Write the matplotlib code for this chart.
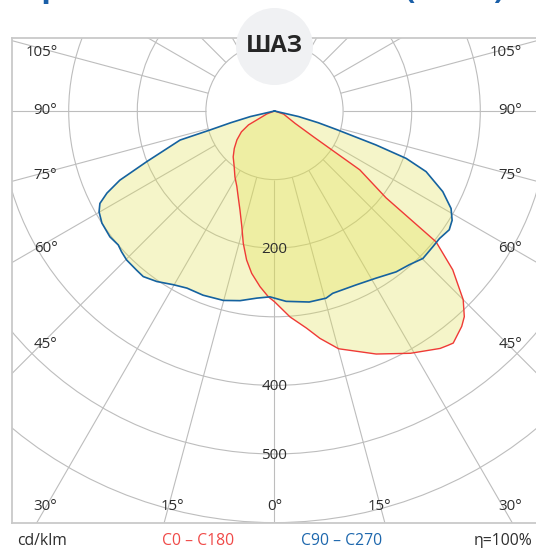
import numpy as np
import matplotlib
matplotlib.use("Agg")
import matplotlib.pyplot as plt
from matplotlib.patches import Circle

plt.rcParams['font.family'] = ['Open Sans', 'DejaVu Sans']

# ---------------- data (cd/klm) ----------------
# C90 - C270 plane (blue): gamma angle from nadir (negative = left side)
blue_gamma = [-90, -77, -75, -73.6, -72.9, -68.4, -65.9, -63.9, -62.1, -60.1, -57.0, -52.6, -49.4,
              -47.4, -44.8, -40.9, -38.4, -34.6, -30.2, -26.3, -21.2, -15.1, -10.3, -5.4, -1.4,
              3.5, 10.3, 15.4, 17.7, 25.1, 31.2, 37.1, 41.2, 45.2, 49.4, 52.3, 55.8, 58.4,
              61.1, 64.4, 68.2, 70.2, 71.5, 73.3, 75, 77, 90]
blue_cd = [0, 36, 66, 98, 144, 200, 247, 272, 288, 295, 300, 302, 300,
           303, 306, 307, 308, 302, 293, 288, 288, 286, 281, 274, 271,
           278, 283, 283, 279, 280, 285, 294, 298, 305, 304, 304, 308, 304,
           294, 272, 238, 204, 156, 96, 66, 36, 0]

# C0 - C180 plane (red)
red_gamma = [-90, -69, -63.2, -61.9, -57.8, -52.5, -47.1, -42, -36, -31, -26.5, -22.9, -19.2,
             -15.8, -13.3, -10.6, -8, -4.7, -1.9,
             0, 4.3, 8.4, 11.3, 15.1, 22.7, 29.3, 34.9, 36.5, 37.6, 41, 42.7, 45, 48.3,
             51, 52.1, 55.4, 55.8, 56.5, 59, 65, 71.2, 90]
red_cd = [0, 12, 29, 43, 57, 69, 80, 90, 100, 112, 123, 136, 153,
          175, 198, 221, 239, 257, 271,
          278, 301, 320, 338, 359, 384, 405, 422, 425, 427, 416, 408, 389, 348,
          303, 206, 151, 104, 68, 35, 20, 14, 0]

rings = [100, 200, 300, 400, 500, 600]
ring_labels = [200, 400, 500]
spokes = list(range(-180, 181, 15))
side_ticks = [105, 90, 75, 60, 45, 30]
bottom_ticks = [15, 0, 15]

legend_red = "C0 – C180"
legend_blue = "C90 – C270"
unit_text = "cd/klm"
eff_text = "η=100%"
badge = "ШАЗ"

# ---------------- layout ----------------
W, H = 536, 548
S = 0.686          # px per cd/klm
CX, CY = 274.5, 111.0
FL, FT, FB = 12.0, 38.3, 523.3
FR = 2 * CX - FL

fig = plt.figure(figsize=(W / 100, H / 100), dpi=100)
ax = fig.add_axes([FL / W, (H - FB) / H, (FR - FL) / W, (FB - FT) / H])
ax.set_xlim((FL - CX) / S, (FR - CX) / S)
ax.set_ylim((CY - FB) / S, (CY - FT) / S)
ax.set_xticks([])
ax.set_yticks([])
for sp in ax.spines.values():
    sp.set_color('#c9c9c9')
    sp.set_linewidth(1.3)

def px(x, y):
    return x / W, 1 - y / H

grid_c = '#bdbdbd'
for r in rings:
    ax.add_patch(Circle((0, 0), r, fill=False, ec=grid_c, lw=0.8, zorder=1))
for a in spokes:
    t = np.radians(a)
    ax.plot([100 * np.sin(t), 1200 * np.sin(t)], [-100 * np.cos(t), -1200 * np.cos(t)],
            color=grid_c, lw=0.8, zorder=1, solid_capstyle='butt')

def xy(g, v):
    g = np.radians(np.asarray(g, float))
    v = np.asarray(v, float)
    return v * np.sin(g), -v * np.cos(g)

fill_c = (0.88, 0.88, 0.30)
bx, by = xy(blue_gamma, blue_cd)
rx, ry = xy(red_gamma, red_cd)
ax.fill(bx, by, color=fill_c, alpha=0.30, lw=0, zorder=2)
ax.fill(rx, ry, color=fill_c, alpha=0.30, lw=0, zorder=2)
ax.plot(rx, ry, color='#ef3a36', lw=1.0, zorder=3)
ax.plot(bx, by, color='#15629f', lw=1.2, zorder=3)

# ring labels
for v in ring_labels:
    ax.text(0, -v - 1.5, str(v), ha='center', va='center', fontsize=11, color='#2e2e2e', zorder=4)

# angle labels
lab_kw = dict(fontsize=10.8, color='#2e2e2e', va='center')
side_y = [52, 110.3, 175.3, 249, 344.8, 506]
for a, yy in zip(side_ticks, side_y):
    fig.text(*px(57.5, yy), f"{a}°", ha='right', **lab_kw)
    fig.text(*px(522, yy), f"{a}°", ha='right', **lab_kw)
for a, xx in zip(bottom_ticks, [172, 275, 379.5]):
    fig.text(*px(xx, 506), f"{a}°", ha='center', **lab_kw)

# badge circle
fig.patches.append(Circle(px(274.5, 46.5), 38.5 / W, transform=fig.transFigure,
                          fc='#f0f1f3', ec='none', zorder=10))
# keep the circle round in figure coordinates
fig.patches[-1].set_transform(
    matplotlib.transforms.Affine2D().scale(W, W) +
    matplotlib.transforms.Affine2D().translate(0, 0) + fig.dpi_scale_trans.inverted()
    + fig.transFigure + fig.transFigure.inverted() + fig.dpi_scale_trans
    if False else fig.transFigure)
fig.patches.pop()
badge_ax = fig.add_axes([0, 0, 1, 1], zorder=10)
badge_ax.set_xlim(0, W)
badge_ax.set_ylim(H, 0)
badge_ax.axis('off')
badge_ax.patch.set_alpha(0)
badge_ax.add_patch(Circle((274.5, 46.5), 38.5, fc='#f0f1f3', ec='none'))
badge_ax.text(274.5, 46.5, badge, ha='center', va='center', fontsize=17,
              fontweight='bold', color='#262626')

# bottom legend texts
fig.text(*px(17, 541), unit_text, ha='left', va='center', fontsize=11.3, color='#2e2e2e')
fig.text(*px(198, 541), legend_red, ha='center', va='center', fontsize=11.3, color='#f04a48')
fig.text(*px(342, 541), legend_blue, ha='center', va='center', fontsize=11.3, color='#1d67ad')
fig.text(*px(532, 541), eff_text, ha='right', va='center', fontsize=11.3, color='#2e2e2e')

# cropped heading fragments at the very top
head_c = '#1a5fa8'
fig.text(*px(40, 4), "Р", ha='left', va='baseline', fontsize=22, fontweight='bold', color=head_c)
fig.text(*px(405, -2), "(", ha='left', va='baseline', fontsize=22, fontweight='bold', color=head_c)
fig.text(*px(493, -2), ")", ha='left', va='baseline', fontsize=22, fontweight='bold', color=head_c)

fig.savefig("out.png", dpi=100)
